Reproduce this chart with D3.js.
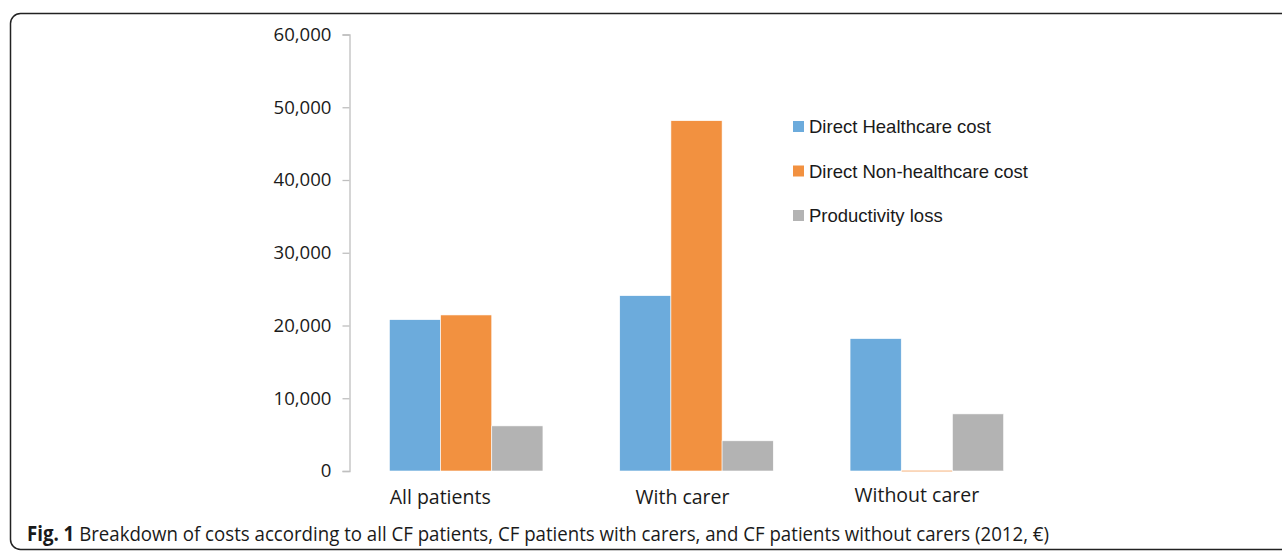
<!DOCTYPE html>
<html lang="en">
<head>
<meta charset="UTF-8">
<title>Breakdown of costs</title>
<style>
  body { margin: 0; background: #fff; }
  text { font-family: "Open Sans", "DejaVu Sans", sans-serif; fill: #1a1a1a; }
</style>
</head>
<body>
<svg id="chart" width="1282" height="551"></svg>
<script src="https://d3js.org/d3.v7.min.js"></script>
<script>
const categories = ["All patients", "With carer", "Without carer"];
const series = ["Direct Healthcare cost", "Direct Non-healthcare cost", "Productivity loss"];
const directHealthcare = [20800, 24100, 18200];
const directNonHealthcare = [21450, 48150, 100];
const productivityLoss = [6200, 4150, 7850];
const yTicks = [0, 10000, 20000, 30000, 40000, 50000, 60000];
const colors = ["#6cabdc", "#f29140", "#b3b3b3"];

const values = [directHealthcare, directNonHealthcare, productivityLoss];
const svg = d3.select("#chart");

// frame round the figure
svg.append("rect")
  .attr("x", 10.5).attr("y", 13.5).attr("width", 1300).attr("height", 536)
  .attr("rx", 10).attr("ry", 10)
  .attr("fill", "none").attr("stroke", "#222").attr("stroke-width", 1.5);

const x0 = d3.scaleBand().domain(categories).range([351, 1042]).paddingInner(1/3).paddingOuter(1/6);
const x1 = d3.scaleBand().domain(series).range([0, x0.bandwidth()]);
const y = d3.scaleLinear().domain([0, 60000]).range([471, 34.5]);

const yAxis = svg.append("g").attr("transform", "translate(349.5,0)")
  .call(d3.axisLeft(y).tickValues(yTicks).tickSize(7).tickPadding(11).tickFormat(d3.format(",")));
yAxis.select(".domain").attr("stroke", "#bfbfbf").attr("stroke-width", 1.3);
yAxis.selectAll(".tick line").attr("stroke", "#bfbfbf").attr("stroke-width", 1.3);
yAxis.selectAll("text").attr("font-size", 18.6).style("font-family", '"Open Sans", sans-serif').attr("fill", "#1a1a1a");

const groups = svg.append("g").selectAll("g").data(categories).join("g")
  .attr("transform", d => `translate(${x0(d)},0)`);
groups.selectAll("rect")
  .data((c, i) => series.map((s, j) => ({ s, v: values[j][i], j })))
  .join("rect")
  .attr("x", d => x1(d.s))
  .attr("width", x1.bandwidth())
  .attr("y", d => y(d.v))
  .attr("height", d => Math.max(1.5, y(0) - y(d.v)))
  .attr("fill", d => colors[d.j])
  .attr("stroke", "#fff").attr("stroke-width", 0.6);

// category labels (Excel puts them a little left of the group centre)
const labelShift = [-26, -14, -10];
svg.append("g").selectAll("text").data(categories).join("text")
  .attr("x", (d, i) => x0(d) + x0.bandwidth() / 2 + labelShift[i])
  .attr("y", (d, i) => i === 2 ? 502 : 504)
  .attr("text-anchor", "middle")
  .attr("font-size", 19.5)
  .text(d => d);

// legend
const legend = svg.append("g").selectAll("g").data(series).join("g")
  .attr("transform", (d, i) => `translate(793,${121 + i * 44.5})`);
legend.append("rect").attr("width", 11).attr("height", 11).attr("fill", (d, i) => colors[i]);
legend.append("text").attr("x", 16).attr("y", 12).attr("font-size", 18.5)
  .style("font-family", '"Liberation Sans", "Open Sans", sans-serif')
  .text(d => d);

// caption
const cap = svg.append("text").attr("x", 27).attr("y", 541).attr("font-size", 20.5)
  .attr("textLength", 1022).attr("lengthAdjust", "spacingAndGlyphs")
  .style("font-family", '"Open Sans", sans-serif').attr("fill", "#222");
cap.append("tspan").attr("font-weight", "bold").text("Fig. 1");
cap.append("tspan").text(" Breakdown of costs according to all CF patients, CF patients with carers, and CF patients without carers (2012, €)");
</script>
</body>
</html>
